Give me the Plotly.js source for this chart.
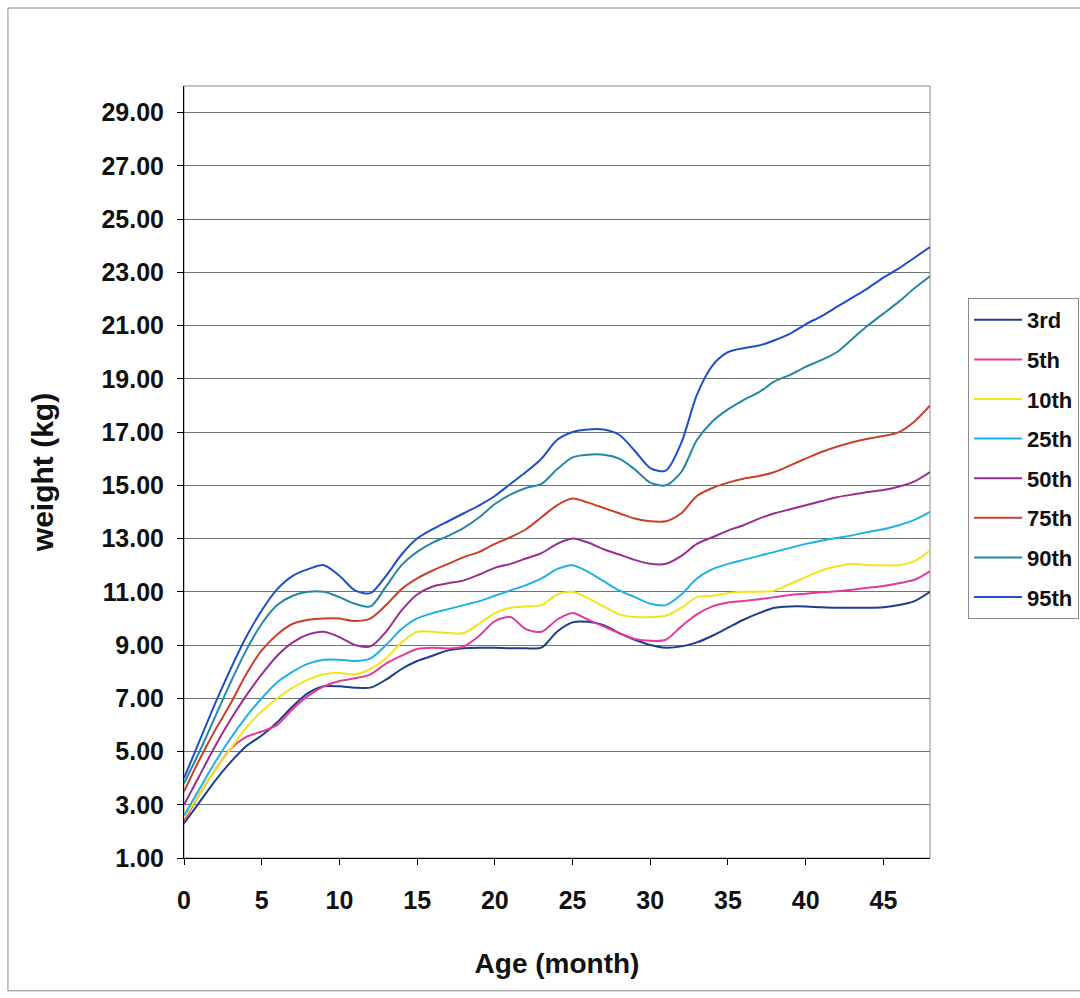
<!DOCTYPE html>
<html>
<head>
<meta charset="utf-8">
<script src="https://cdn.plot.ly/plotly-3.0.1.min.js"></script>
<style>
  html, body { margin: 0; padding: 0; background: #ffffff; }
  #chart { width: 1080px; height: 998px; }
</style>
</head>
<body>
<div id="chart"></div>
<script>
// Age in months (0..48)
const months = [];
for (let m = 0; m <= 48; m++) months.push(m);

const seriesNames = ["3rd", "5th", "10th", "25th", "50th", "75th", "90th", "95th"];

const p3 = [2.3, 3.1, 3.9, 4.6, 5.2, 5.6, 6.1, 6.7, 7.2, 7.45, 7.45, 7.4, 7.4, 7.7, 8.1, 8.4, 8.6, 8.8, 8.88, 8.9, 8.9, 8.88, 8.88, 8.9, 9.5, 9.85, 9.87, 9.75, 9.45, 9.2, 9.0, 8.9, 8.95, 9.1, 9.35, 9.65, 9.95, 10.2, 10.4, 10.45, 10.45, 10.42, 10.4, 10.4, 10.4, 10.42, 10.5, 10.65, 11.0];
const p5 = [2.4, 3.4, 4.3, 5.1, 5.55, 5.75, 6.0, 6.6, 7.1, 7.45, 7.65, 7.75, 7.9, 8.3, 8.6, 8.85, 8.9, 8.87, 8.95, 9.35, 9.9, 10.05, 9.6, 9.5, 9.95, 10.2, 9.95, 9.7, 9.45, 9.23, 9.16, 9.2, 9.7, 10.15, 10.45, 10.6, 10.65, 10.72, 10.8, 10.88, 10.93, 10.98, 11.02, 11.08, 11.15, 11.22, 11.32, 11.45, 11.77];
const p10 = [2.5, 3.4, 4.3, 5.1, 5.9, 6.5, 7.0, 7.4, 7.7, 7.9, 7.95, 7.9, 8.1, 8.5, 9.1, 9.5, 9.5, 9.45, 9.45, 9.8, 10.2, 10.4, 10.45, 10.5, 10.9, 11.0, 10.75, 10.45, 10.15, 10.05, 10.05, 10.1, 10.4, 10.8, 10.85, 10.95, 11.0, 11.0, 11.05, 11.3, 11.55, 11.8, 11.95, 12.05, 12.0, 12.0, 12.0, 12.15, 12.55];
const p25 = [2.6, 3.6, 4.6, 5.5, 6.3, 7.0, 7.6, 8.0, 8.3, 8.45, 8.45, 8.4, 8.5, 9.0, 9.6, 10.0, 10.2, 10.35, 10.5, 10.65, 10.85, 11.05, 11.25, 11.5, 11.85, 12.0, 11.75, 11.4, 11.05, 10.8, 10.55, 10.5, 10.9, 11.5, 11.85, 12.05, 12.2, 12.35, 12.5, 12.65, 12.8, 12.92, 13.02, 13.12, 13.25, 13.35, 13.5, 13.7, 14.0];
const p50 = [3.0, 4.1, 5.2, 6.2, 7.1, 7.9, 8.6, 9.1, 9.4, 9.5, 9.3, 9.0, 8.95, 9.5, 10.3, 10.9, 11.2, 11.32, 11.43, 11.65, 11.9, 12.05, 12.25, 12.45, 12.8, 13.0, 12.85, 12.6, 12.4, 12.2, 12.05, 12.05, 12.35, 12.8, 13.05, 13.3, 13.5, 13.75, 13.95, 14.1, 14.25, 14.4, 14.55, 14.65, 14.75, 14.82, 14.95, 15.15, 15.5];
const p75 = [3.5, 4.7, 5.8, 6.8, 7.9, 8.8, 9.4, 9.8, 9.95, 10.0, 10.0, 9.9, 10.0, 10.5, 11.1, 11.5, 11.8, 12.05, 12.3, 12.5, 12.8, 13.05, 13.35, 13.8, 14.25, 14.5, 14.35, 14.15, 13.95, 13.75, 13.65, 13.65, 13.95, 14.6, 14.9, 15.1, 15.25, 15.35, 15.5, 15.75, 16.0, 16.25, 16.45, 16.62, 16.75, 16.85, 17.0, 17.4, 18.0];
const p90 = [3.8, 5.0, 6.3, 7.6, 8.8, 9.8, 10.5, 10.85, 11.0, 11.0, 10.8, 10.55, 10.45, 11.2, 12.0, 12.5, 12.85, 13.1, 13.4, 13.8, 14.3, 14.65, 14.9, 15.05, 15.6, 16.05, 16.15, 16.15, 16.0, 15.6, 15.1, 15.0, 15.5, 16.7, 17.4, 17.85, 18.2, 18.5, 18.9, 19.15, 19.45, 19.7, 20.0, 20.5, 21.0, 21.45, 21.9, 22.4, 22.85];
const p95 = [4.0, 5.4, 6.8, 8.1, 9.3, 10.3, 11.1, 11.6, 11.85, 12.0, 11.6, 11.05, 10.95, 11.6, 12.4, 13.0, 13.35, 13.65, 13.95, 14.25, 14.6, 15.05, 15.5, 16.0, 16.7, 17.0, 17.1, 17.1, 16.9, 16.3, 15.65, 15.55, 16.6, 18.4, 19.5, 20.0, 20.15, 20.25, 20.45, 20.7, 21.05, 21.35, 21.7, 22.05, 22.4, 22.8, 23.15, 23.55, 23.95];

const seriesValues = [p3, p5, p10, p25, p50, p75, p90, p95];
const seriesColors = ["#1c3e8c", "#e5399b", "#f2e41a", "#1fb0e6", "#992e8e", "#c9402c", "#2487a6", "#1f4fc4"];

const xTickVals = [0, 5, 10, 15, 20, 25, 30, 35, 40, 45];
const yTickVals = [1, 3, 5, 7, 9, 11, 13, 15, 17, 19, 21, 23, 25, 27, 29];

const traces = seriesNames.map((name, i) => ({
  type: "scatter",
  mode: "lines",
  name: name,
  legendgroup: name,
  x: months,
  y: seriesValues[i],
  line: { color: seriesColors[i], width: 2, shape: "spline", smoothing: 0.8 },
  hoverinfo: "x+y+name"
}));

const boldFont = "Liberation Sans, Arial, sans-serif";
const narrowFont = "Liberation Sans Narrow, Liberation Sans, Arial, sans-serif";

const layout = {
  width: 1080,
  height: 998,
  paper_bgcolor: "#ffffff",
  plot_bgcolor: "#ffffff",
  margin: { l: 184, r: 150, t: 86, b: 140, autoexpand: false },
  showlegend: true,
  legend: {
    x: 1.051, xanchor: "left",
    y: 0.7254, yanchor: "top",
    bgcolor: "#ffffff",
    bordercolor: "#8a8a8a",
    borderwidth: 1,
    tracegroupgap: 8,
    itemwidth: 48,
    font: { family: boldFont, size: 22, color: "#111111", weight: "bold" }
  },
  xaxis: {
    range: [0, 48],
    tickmode: "array",
    tickvals: xTickVals,
    ticktext: xTickVals.map(String),
    ticks: "outside",
    ticklen: 6,
    tickcolor: "#000000",
    showline: true,
    linecolor: "#000000",
    linewidth: 1,
    showgrid: false,
    zeroline: false,
    ticklabelstandoff: 14,
    tickfont: { family: narrowFont, size: 25, color: "#111111", weight: "bold" },
    title: {
      text: "Age (month)",
      font: { family: narrowFont, size: 28, color: "#111111", weight: "bold" },
      standoff: 40
    },
    fixedrange: true
  },
  yaxis: {
    range: [1, 30],
    tickmode: "array",
    tickvals: yTickVals,
    ticktext: yTickVals.map(v => v.toFixed(2)),
    ticks: "outside",
    ticklen: 6,
    tickcolor: "#000000",
    showline: true,
    linecolor: "#000000",
    linewidth: 1,
    showgrid: true,
    gridcolor: "#6e7474",
    gridwidth: 1,
    zeroline: false,
    ticklabelstandoff: 8,
    tickfont: { family: boldFont, size: 25, color: "#111111", weight: "bold" },
    title: {
      text: "weight (kg)",
      font: { family: boldFont, size: 30, color: "#111111", weight: "bold" },
      standoff: 38
    },
    fixedrange: true
  },
  shapes: [
    { type: "rect", xref: "paper", yref: "paper", x0: 0, x1: 1, y0: 0, y1: 1,
      line: { color: "#8a8a8a", width: 1 }, layer: "below" },
    { type: "rect", xref: "paper", yref: "paper", x0: -0.236, x1: 1.215, y0: -0.172, y1: 1.101,
      line: { color: "#8a8a8a", width: 1 }, layer: "below" }
  ]
};

Plotly.newPlot("chart", traces, layout, { displayModeBar: false, staticPlot: true });
</script>
</body>
</html>
